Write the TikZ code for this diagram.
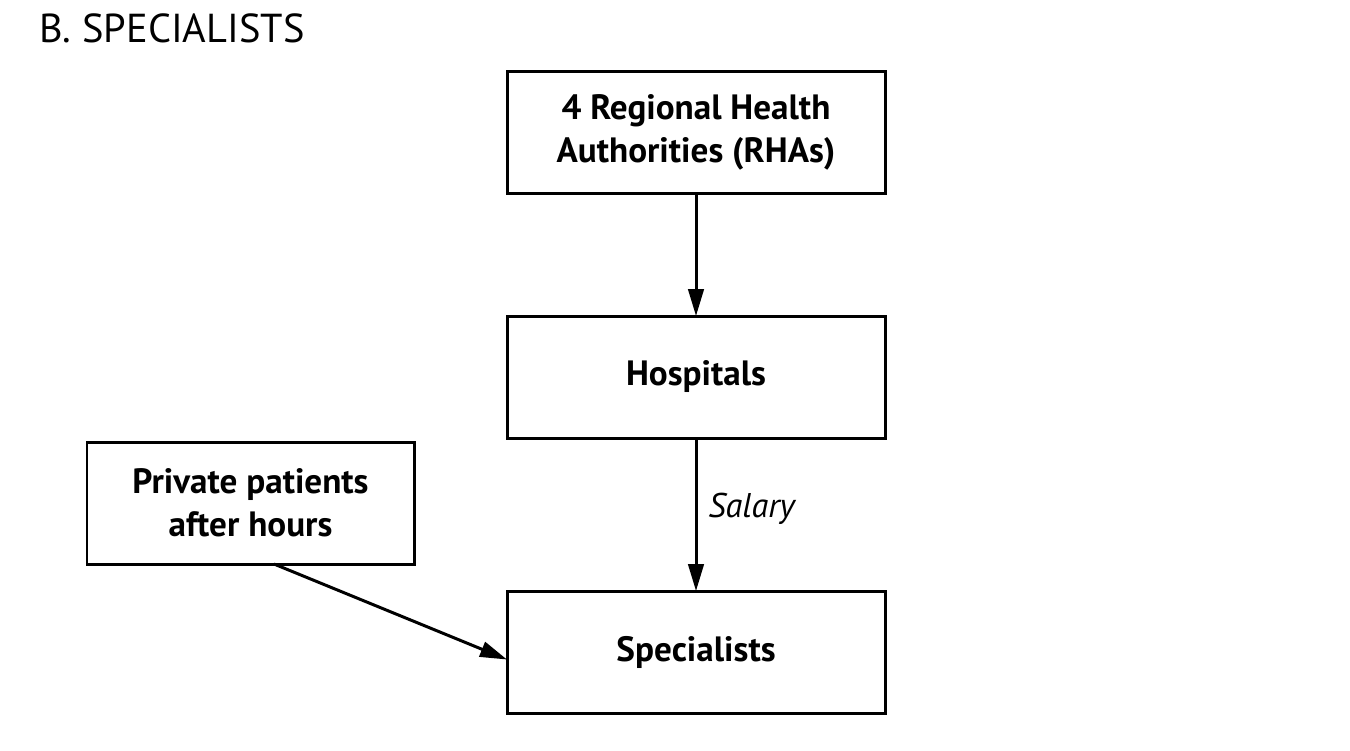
\documentclass[tikz,border=0pt]{standalone}
\usepackage{fontspec}
\setmainfont{PT Sans}
\usetikzlibrary{arrows.meta,positioning}

\begin{document}
\begin{tikzpicture}[
  font=\fontsize{20}{24}\selectfont,
  >={Triangle[length=5.4mm,width=3.1mm]},
  node distance=2.46cm,
  box/.style={draw=black, line width=1.7pt, align=center, inner sep=0pt,
    outer sep=0pt, minimum width=7.56cm, minimum height=2.44cm,
    font=\fontsize{20}{24.5}\selectfont\bfseries},
  flow/.style={->, line width=1.7pt, draw=black}
]
\useasboundingbox (0,0) rectangle (27,-15);

\node[anchor=base west, inner sep=0pt, font=\fontsize{23}{26}\selectfont] (title) at (0.78,-0.84) {B. SPECIALISTS};

\node[box] (rha) at (13.92,-2.64) {4 Regional Health\\Authorities (RHAs)};
\node[box, below=of rha] (hosp) {Hospitals};
\node[box, below=3.06cm of hosp] (spec) {Specialists};
\node[box, minimum width=6.54cm] (priv) at (5.01,-10.06) {Private patients\\after hours};

\draw[flow] (rha) -- (hosp);
\draw[flow] (hosp) -- node[right=1mm, pos=.46, font=\fontsize{19.5}{22}\selectfont\itshape]{Salary} (spec);
\draw[flow] ([xshift=4.7mm]priv.south) -- ([yshift=-1.5mm]spec.west);

\end{tikzpicture}
\end{document}
